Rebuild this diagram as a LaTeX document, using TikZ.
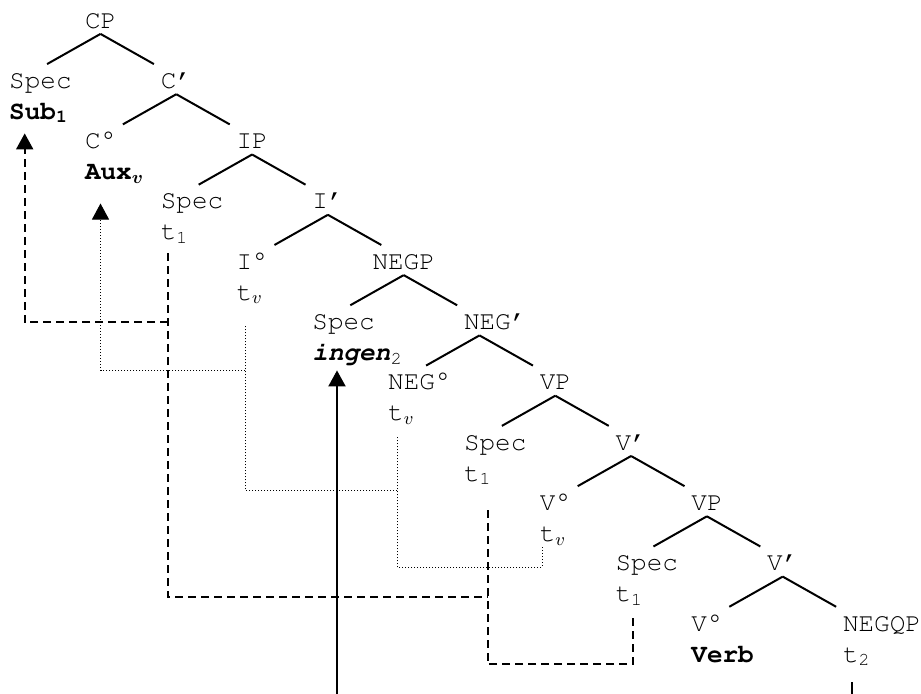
\documentclass[tikz,border=0pt]{standalone}
\usepackage{amsmath}
\usepackage[T1]{fontenc}
\usepackage{courier}
\renewcommand{\familydefault}{\ttdefault}
\usetikzlibrary{arrows.meta}

\begin{document}
\begin{tikzpicture}[x=0.5pt, y=-0.5pt,
        font=\fontsize{13pt}{15pt}\selectfont,
        every node/.style={anchor=center, inner sep=0pt, text width=15.5pt, align=left,
            text height=5.6pt, text depth=2.75pt},
        execute at begin node={\hyphenpenalty=10000},
        level distance=30.15pt, sibling distance=75.8pt,
        parent anchor=south, child anchor=north,
        edge from parent/.style={draw, line width=1pt, shorten >=12.85pt},
        low/.style={yshift=-15.5pt},
        subj/.style={line width=1pt, dash pattern=on 4pt off 2.5pt},
        verb/.style={line width=0.5pt, dash pattern=on 0.5pt off 1pt},
        neg/.style={line width=1pt},
        moved/.style={-{Triangle[width=8.5pt,length=8pt]}}]
    \useasboundingbox (0,0) rectangle (921,693);
    \clip (0,0) rectangle (921,693);

    \node (cp) at (100.5,25.15) {CP}
        child {node (specc) {Spec} node [low] (sub) {\textbf{Sub\textsubscript{1}}}}
        child {node (cbar) {C\textquoteright}
            child {node (c0) {C\textdegree} node [low] (aux) {\textbf{Aux}$_{\boldsymbol{v}}$}}
            child {node (ip) {IP}
                child {node (speci) {Spec} node [low] (ta) {t\textsubscript{1}}}
                child {node (ibar) {I\textquoteright}
                    child {node (i0) {I\textdegree} node [low] (tva) {t$_v$}}
                    child {node (negp) {\makebox[15.5pt]{NEGP}}
                        child {node (specn) {Spec} node [low] (ingen) {\textbf{\textit{ingen}}\textsubscript{2}}}
                        child {node (negbar) {NEG\textquoteright}
                            child {node (neg0) {NEG\textdegree} node [low] (tvb) {t$_v$}}
                            child {node (vp) {VP}
                                child {node (specv) {Spec} node [low] (tb) {t\textsubscript{1}}}
                                child {node (vbar) {V\textquoteright}
                                    child {node (v0) {V\textdegree} node [low] (tvc) {t$_v$}}
                                    child {node (vpl) {VP}
                                        child {node (specl) {Spec} node [low] (tc) {t\textsubscript{1}}}
                                        child {node (vbarl) {V\textquoteright}
                                            child {node (v0l) {V\textdegree} node [low] (verb) {\textbf{Verb}}}
                                            child {node (negqp) {NEGQP} node [low] (tt) {t\textsubscript{2}}}
                                        }
                                    }
                                }
                            }
                        }
                    }
                }
            }
        };

    % subject: t1 -> t1 -> t1 -> Spec,CP
    \draw[subj, shorten <=5.4pt, shorten >=9.2pt] ([xshift=1pt]tc.south) -- ++(0,56.8) -| ([xshift=4.25pt]tb.south);
    \draw[subj, shorten <=3.8pt] ([xshift=-4.15pt]ta.south) -- ++(0,351.6) -- ++(320,0);
    \draw[subj, moved, shorten >=4.1pt] ([xshift=-4.15pt]ta.south) ++(0,76.6) -| (sub.south);

    % verb: V -> NEG -> I -> C
    \draw[verb, shorten >=5.35pt] ([xshift=-6.65pt]tvc.south) -- ++(0,20) -| ([xshift=-3.35pt]tvb.south);
    \draw[verb, shorten >=9.65pt] ([xshift=-3.35pt]tvb.south) ++(0,63.7) -| ([xshift=-3.55pt]tva.south);
    \draw[verb, moved, shorten >=9pt] ([xshift=-3.55pt]tva.south) ++(0,64.3) -| (aux.south);

    % ingen out of NEGQP
    \draw[neg, moved, shorten <=7.25pt, shorten >=2pt] ([xshift=-3.25pt]tt.south) -- ++(0,40) -| ([xshift=4.55pt]ingen.south);
\end{tikzpicture}
\end{document}
